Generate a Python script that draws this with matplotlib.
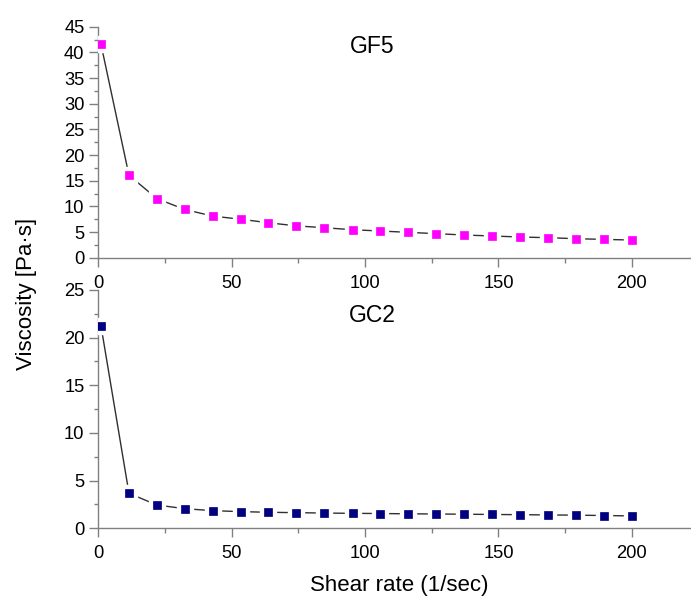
import matplotlib
matplotlib.use("Agg")
import matplotlib.pyplot as plt
from matplotlib.ticker import MultipleLocator

plt.rcParams['font.family'] = ['Liberation Sans', 'DejaVu Sans']

shear_rate = [1, 11.5, 22, 32.4, 42.9, 53.4, 63.8, 74.3, 84.8, 95.3,
              105.7, 116.2, 126.7, 137.2, 147.6, 158.1, 168.6, 179.0, 189.5, 200]
gf5 = [41.6, 16.05, 11.5, 9.4, 8.1, 7.5, 6.8, 6.2, 5.84, 5.45,
       5.2, 4.94, 4.68, 4.42, 4.23, 4.03, 3.9, 3.7, 3.57, 3.44]
gc2 = [21.25, 3.67, 2.44, 2.06, 1.85, 1.75, 1.68, 1.64, 1.6, 1.57,
       1.55, 1.52, 1.5, 1.48, 1.45, 1.43, 1.4, 1.38, 1.34, 1.3]
panel_names = ["GF5", "GC2"]
x_ticks = [0, 50, 100, 150, 200]

W, H = 691, 598
fig = plt.figure(figsize=(W / 100, H / 100), dpi=100)

def px_axes(left, top, right, bottom):
    return fig.add_axes([left / W, 1 - bottom / H, (right - left) / W, (bottom - top) / H])

ax1 = px_axes(98.3, 26.7, 691, 257.7)
ax2 = px_axes(98.3, 290.0, 691, 528.3)

spine_col = '#808080'
for ax, y, col, name, ylim, ymaj, ymin, ty in [
        (ax1, gf5, '#ff00ff', panel_names[0], 45, 5, 2.5, 0.913),
        (ax2, gc2, '#000080', panel_names[1], 25, 5, 2.5, 0.895)]:
    ax.plot(shear_rate, y, color='#303030', lw=1.0, zorder=2)
    ax.plot(shear_rate, y, ls='none', marker='s', ms=11, mfc='white', mec='white', zorder=3)
    ax.plot(shear_rate, y, ls='none', marker='s', ms=6.2, mfc=col, mec=col, mew=0.5, zorder=4)
    ax.set_xlim(0, 222.2)
    ax.set_ylim(0, ylim)
    ax.set_xticks(x_ticks)
    ax.xaxis.set_minor_locator(MultipleLocator(25))
    ax.yaxis.set_major_locator(MultipleLocator(ymaj))
    ax.yaxis.set_minor_locator(MultipleLocator(ymin))
    for s in ['top', 'right']:
        ax.spines[s].set_visible(False)
    for s in ['left', 'bottom']:
        ax.spines[s].set_color(spine_col)
        ax.spines[s].set_linewidth(1.0)
    ax.tick_params(axis='x', which='major', direction='out', length=6.3, width=1.0,
                   color=spine_col, labelsize=13.2, pad=6.0)
    ax.tick_params(axis='x', which='minor', direction='out', length=3.3, width=1.0, color=spine_col)
    ax.tick_params(axis='y', which='major', direction='out', length=6.5, width=1.0,
                   color=spine_col, labelsize=13.2, pad=3.5)
    ax.tick_params(axis='y', which='minor', direction='out', length=3.2, width=1.0, color=spine_col)
    ax.text(0.4626, ty, name, transform=ax.transAxes, ha='center', va='center',
            fontsize=16.5, color='black')
    ax.patch.set_alpha(0)

fig.text(398.8 / W, 1 - 586 / H, "Shear rate (1/sec)", ha='center', va='center', fontsize=16)
fig.text(27 / W, 1 - 294 / H, "Viscosity [Pa·s]", ha='center', va='center',
         rotation=90, fontsize=16)

fig.savefig("out.png", dpi=100)
